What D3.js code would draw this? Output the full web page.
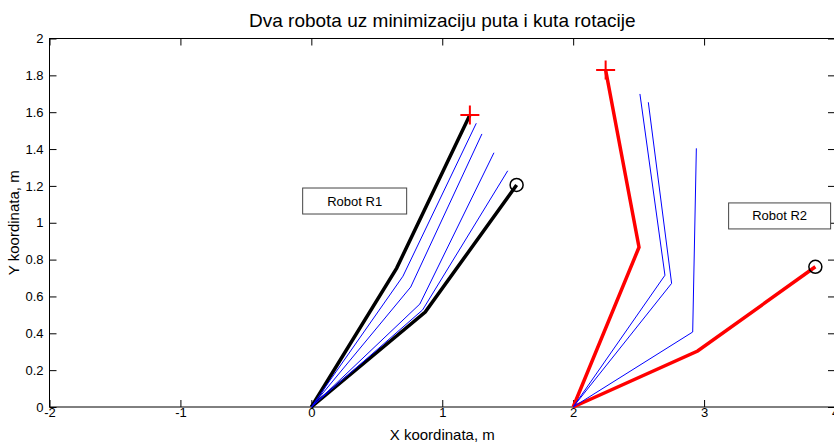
<!DOCTYPE html>
<html>
<head>
<meta charset="utf-8">
<script src="https://cdn.jsdelivr.net/npm/d3@7"></script>
<style>
  html, body { margin: 0; padding: 0; background: #fff; }
  svg { display: block; font-family: Arial, "Liberation Sans", sans-serif; }
</style>
</head>
<body>
<svg id="chart" width="834" height="442"></svg>
<script>
// Axis ticks
const xTicks = [-2, -1, 0, 1, 2, 3, 4];
const yTicks = [0, 0.2, 0.4, 0.6, 0.8, 1, 1.2, 1.4, 1.6, 1.8, 2];

// Robot R1 (base at 0,0): first and last configurations, joint coordinates
const r1First = [[0, 0], [0.652, 0.754], [1.211, 1.585]];
const r1Last  = [[0, 0], [0.870, 0.515], [1.568, 1.205]];
// Robot R1 intermediate configurations
const r1Steps = [
  [[0, 0], [0.700, 0.710], [1.260, 1.540]],
  [[0, 0], [0.759, 0.651], [1.303, 1.482]],
  [[0, 0], [0.829, 0.559], [1.395, 1.380]],
  [[0, 0], [0.850, 0.527], [1.500, 1.282]]
];

// Robot R2 (base at 2,0)
const r2First = [[2, 0], [2.503, 0.867], [2.248, 1.829]];
const r2Last  = [[2, 0], [2.951, 0.304], [3.850, 0.761]];
const r2Steps = [
  [[2, 0], [2.701, 0.715], [2.510, 1.699]],
  [[2, 0], [2.752, 0.671], [2.574, 1.654]],
  [[2, 0], [2.913, 0.407], [2.941, 1.404]]
];

// Tool-tip markers
const plusMarks = [[1.211, 1.585], [2.248, 1.829]];
const circleMarks = [[1.568, 1.205], [3.850, 0.761]];

// Text annotations
const labels = [
  { text: "Robot R1", x: 0.331, y: 1.118, w: 104 },
  { text: "Robot R2", x: 3.577, y: 1.037, w: 102 }
];

const svg = d3.select("#chart");
const x = d3.scaleLinear().domain([-2, 4]).range([49.5, 835]);
const y = d3.scaleLinear().domain([0, 2]).range([407, 38.5]);
const line = d3.line().x(d => x(d[0])).y(d => y(d[1]));
const tickLen = 7;

// Title
svg.append("text")
  .attr("x", (x(-2) + x(4)) / 2).attr("y", 27)
  .attr("text-anchor", "middle").attr("font-size", 19)
  .text("Dva robota uz minimizaciju puta i kuta rotacije");

// Axis box
svg.append("rect")
  .attr("x", x(-2)).attr("y", y(2))
  .attr("width", x(4) - x(-2)).attr("height", y(0) - y(2))
  .attr("fill", "#fff").attr("stroke", "#000").attr("stroke-width", 1);

// Axes drawn with d3 axis generators (ticks pointing inward)
const fmt = d => String(d);
const xAxis = svg.append("g").attr("transform", `translate(0,${y(0)})`)
  .call(d3.axisBottom(x).tickValues(xTicks).tickFormat(fmt).tickSizeInner(-tickLen).tickSizeOuter(0).tickPadding(4));
const yAxis = svg.append("g").attr("transform", `translate(${x(-2)},0)`)
  .call(d3.axisLeft(y).tickValues(yTicks).tickFormat(fmt).tickSizeInner(-tickLen).tickSizeOuter(0).tickPadding(5));
const xTop = svg.append("g").attr("transform", `translate(0,${y(2)})`)
  .call(d3.axisTop(x).tickValues(xTicks).tickFormat("").tickSizeInner(-tickLen).tickSizeOuter(0));
const yRight = svg.append("g").attr("transform", `translate(${x(4)},0)`)
  .call(d3.axisRight(y).tickValues(yTicks).tickFormat("").tickSizeInner(-tickLen).tickSizeOuter(0));

[xAxis, yAxis, xTop, yRight].forEach(g => {
  g.selectAll(".domain").remove();
  g.selectAll("line").attr("stroke", "#000");
  g.selectAll("text").attr("font-size", 13).attr("fill", "#000")
    .attr("font-family", "Arial, 'Liberation Sans', sans-serif");
});
xAxis.selectAll("text").attr("dy", "0.45em");
yAxis.selectAll("text").attr("dx", "-1px");

// Axis titles
svg.append("text")
  .attr("x", (x(-2) + x(4)) / 2).attr("y", 440)
  .attr("text-anchor", "middle").attr("font-size", 15)
  .text("X koordinata, m");
svg.append("text")
  .attr("transform", `translate(19,${(y(0) + y(2)) / 2}) rotate(-90)`)
  .attr("text-anchor", "middle").attr("font-size", 15)
  .text("Y koordinata, m");

const plot = svg.append("g");

// Thick first/last configurations
plot.selectAll(".r1").data([r1First, r1Last]).join("path")
  .attr("class", "r1")
  .attr("d", line).attr("fill", "none")
  .attr("stroke", "#000").attr("stroke-width", 3.5).attr("stroke-linejoin", "miter");
plot.selectAll(".r2").data([r2First, r2Last]).join("path")
  .attr("class", "r2")
  .attr("d", line).attr("fill", "none")
  .attr("stroke", "#ff0000").attr("stroke-width", 3.5).attr("stroke-linejoin", "miter");

// Intermediate configurations
plot.selectAll(".step").data(r1Steps.concat(r2Steps)).join("path")
  .attr("class", "step")
  .attr("d", line).attr("fill", "none")
  .attr("stroke", "#0000ff").attr("stroke-width", 1);

// Markers
plusMarks.forEach(p => {
  const cx = x(p[0]), cy = y(p[1]), h = 9.5;
  plot.append("path")
    .attr("d", `M${cx - h},${cy}H${cx + h}M${cx},${cy - h}V${cy + h}`)
    .attr("stroke", "#ff0000").attr("stroke-width", 2).attr("fill", "none");
});
plot.selectAll(".circ").data(circleMarks).join("circle")
  .attr("class", "circ")
  .attr("cx", d => x(d[0])).attr("cy", d => y(d[1])).attr("r", 6.5)
  .attr("fill", "none").attr("stroke", "#000").attr("stroke-width", 1.5);

// Labelled boxes
labels.forEach(l => {
  const cx = x(l.x), cy = y(l.y);
  plot.append("rect")
    .attr("x", cx - l.w / 2).attr("y", cy - 13)
    .attr("width", l.w).attr("height", 26)
    .attr("fill", "#fff").attr("stroke", "#444").attr("stroke-width", 1);
  plot.append("text")
    .attr("x", cx).attr("y", cy + 4.5)
    .attr("text-anchor", "middle").attr("font-size", 13)
    .text(l.text);
});
</script>
</body>
</html>
